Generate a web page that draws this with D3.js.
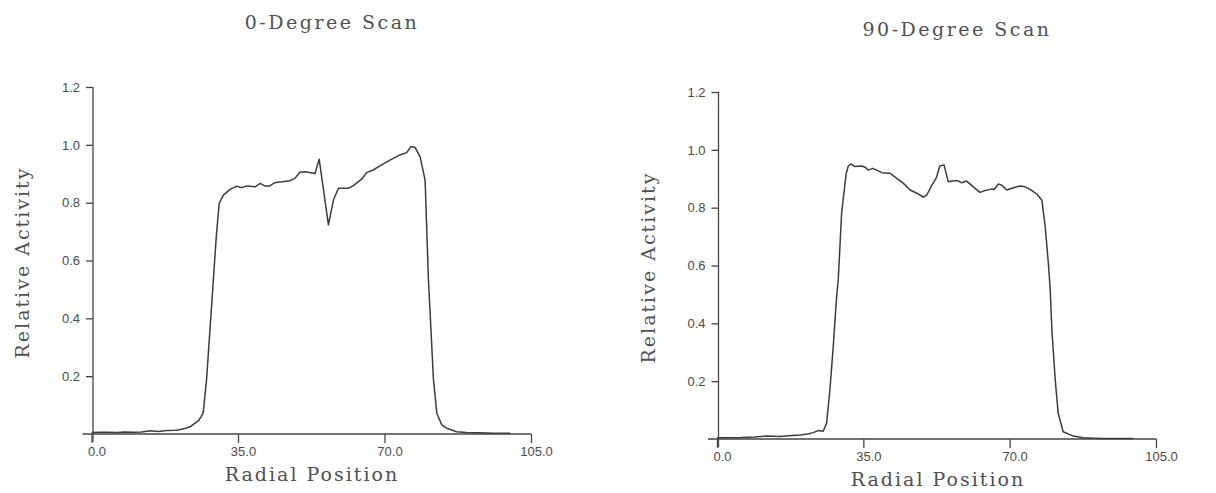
<!DOCTYPE html>
<html>
<head>
<meta charset="utf-8">
<title>Radial scans</title>
<script src="https://d3js.org/d3.v7.min.js"></script>
<style>
  body { margin: 0; background: #fff; }
  svg text { fill: #505050; }
  .title, .axisLabel { font-family: "DejaVu Serif", serif; }
  .title { font-size: 19px; letter-spacing: 2.5px; }
  .axisLabel { font-size: 19px; letter-spacing: 2px; }
  .tick text { font-family: "Liberation Sans", Arial, sans-serif; font-size: 13px; fill: #4a4a4a; }
  .domain, .tick line { stroke: #444; stroke-width: 1.3; fill: none; }
  .scan { fill: none; stroke: #3c3c3c; stroke-width: 1.5; stroke-linejoin: round; }
</style>
</head>
<body>
<svg id="chart" width="1216" height="493"></svg>
<script>
// 0-degree scan
var pos0 = [0, 2, 4, 6, 8, 10, 12, 14, 16, 18, 20, 21, 22.5, 23.5, 24.5, 25.5, 26.2, 26.7, 27.5, 28.3,
  29.1, 29.8, 30.5, 31.5, 33.1, 34.7, 35.9, 37.1, 39.1, 40.3, 41.4, 42.6, 43.8, 45.5, 47.4, 48.6, 49.8, 51.0,
  53.4, 54.4, 56.6, 57.8, 59.0, 61.3, 62.5, 64.6, 65.7, 67.3, 68.9, 71.3, 73.7, 75.3, 76.3, 77.3, 78.5, 79.7,
  80.5, 80.9, 81.7, 82.5, 83.7, 84.9, 87.2, 89.6, 92.8, 96, 100];
var act0 = [0.005, 0.006, 0.006, 0.005, 0.007, 0.006, 0.007, 0.011, 0.009, 0.012, 0.013, 0.015, 0.02, 0.025,
  0.035, 0.045, 0.06, 0.075, 0.19, 0.36, 0.53, 0.68, 0.797, 0.826, 0.846, 0.857, 0.852, 0.858, 0.855, 0.867,
  0.858, 0.858, 0.869, 0.872, 0.876, 0.884, 0.905, 0.907, 0.901, 0.950, 0.723, 0.809, 0.850, 0.850, 0.858,
  0.882, 0.904, 0.913, 0.927, 0.947, 0.965, 0.973, 0.994, 0.991, 0.959, 0.878, 0.532, 0.418, 0.187, 0.072,
  0.031, 0.020, 0.008, 0.005, 0.004, 0.003, 0.003];

// 90-degree scan
var pos90 = [0, 3, 6, 9, 12, 15, 18, 20, 22, 23, 24.2, 25.4, 26.2, 27.0, 27.8, 28.6, 29.0, 29.8, 30.9, 31.4,
  32.0, 33.0, 34.6, 35.4, 36.2, 37.2, 38.2, 39.4, 41.4, 43.0, 44.6, 46.2, 47.8, 49.4, 50.2, 51.4, 52.4, 53.3,
  54.3, 55.3, 56.5, 57.7, 58.5, 59.7, 61.3, 62.9, 64.1, 65.7, 66.3, 67.3, 68.1, 69.3, 70.9, 72.5, 73.7, 74.9,
  76.5, 77.7, 78.5, 79.3, 79.7, 80.1, 80.9, 81.6, 82.8, 85.2, 87.6, 91.6, 95, 99.5];
var act90 = [0.004, 0.004, 0.005, 0.007, 0.010, 0.009, 0.012, 0.014, 0.018, 0.022, 0.029, 0.027, 0.054,
  0.169, 0.319, 0.492, 0.550, 0.780, 0.919, 0.944, 0.951, 0.942, 0.944, 0.940, 0.930, 0.936, 0.930, 0.921,
  0.919, 0.901, 0.884, 0.861, 0.850, 0.836, 0.844, 0.878, 0.901, 0.944, 0.948, 0.890, 0.893, 0.893, 0.886,
  0.892, 0.872, 0.853, 0.859, 0.865, 0.863, 0.882, 0.878, 0.861, 0.869, 0.875, 0.872, 0.863, 0.847, 0.826,
  0.734, 0.600, 0.515, 0.377, 0.204, 0.089, 0.025, 0.010, 0.004, 0.002, 0.002, 0.002];

var xTicks = [0, 35, 70, 105];
var yTicks = [0.2, 0.4, 0.6, 0.8, 1.0, 1.2];
var titles = ["0-Degree Scan", "90-Degree Scan"];
var xTitle = "Radial Position";
var yTitle = "Relative Activity";

var svg = d3.select("#chart");

// panel layout (pixels)
var panels = [
  { pos: pos0, act: act0, title: titles[0], left: 91.5, right: 531, top: 87, bottom: 434,
    titleX: 332, titleY: 29, xLabelX: 312, xLabelY: 481, yLabelX: 29 },
  { pos: pos90, act: act90, title: titles[1], left: 717, right: 1156, top: 92, bottom: 439,
    titleX: 957, titleY: 36, xLabelX: 938, xLabelY: 486, yLabelX: 655 }
];

panels.forEach(function(p) {
  var x = d3.scaleLinear().domain([0, 105]).range([p.left, p.right]);
  var y = d3.scaleLinear().domain([0, 1.2]).range([p.bottom, p.top]);
  var g = svg.append("g");

  // x axis
  var xAxis = g.append("g")
    .attr("transform", "translate(0," + p.bottom + ")")
    .call(d3.axisBottom(x).tickValues(xTicks).tickFormat(d3.format(".1f"))
      .tickSize(9).tickSizeOuter(0).tickPadding(4));
  xAxis.select(".domain").attr("d", "M" + (p.left - 9) + ",0H" + p.right);
  xAxis.selectAll(".tick text").attr("dx", 5);

  // y axis
  var yAxis = g.append("g")
    .attr("transform", "translate(" + (p.left + 1.5) + ",0)")
    .call(d3.axisLeft(y).tickValues(yTicks).tickFormat(d3.format(".1f"))
      .tickSize(7).tickSizeOuter(0).tickPadding(6));
  yAxis.select(".domain").attr("d", "M0," + p.top + "V" + (p.bottom + 8));

  // scan line
  var line = d3.line()
    .x(function(d) { return x(d[0]); })
    .y(function(d) { return y(d[1]); });
  g.append("path")
    .datum(d3.zip(p.pos, p.act))
    .attr("class", "scan")
    .attr("d", line);

  // texts
  g.append("text").attr("class", "title")
    .attr("x", p.titleX).attr("y", p.titleY)
    .attr("text-anchor", "middle").text(p.title);
  g.append("text").attr("class", "axisLabel")
    .attr("x", p.xLabelX).attr("y", p.xLabelY)
    .attr("text-anchor", "middle").text(xTitle);
  g.append("text").attr("class", "axisLabel")
    .attr("transform", "translate(" + p.yLabelX + "," + ((p.top + p.bottom) / 2 + 2) + ") rotate(-90)")
    .attr("text-anchor", "middle").text(yTitle);
});
</script>
</body>
</html>
